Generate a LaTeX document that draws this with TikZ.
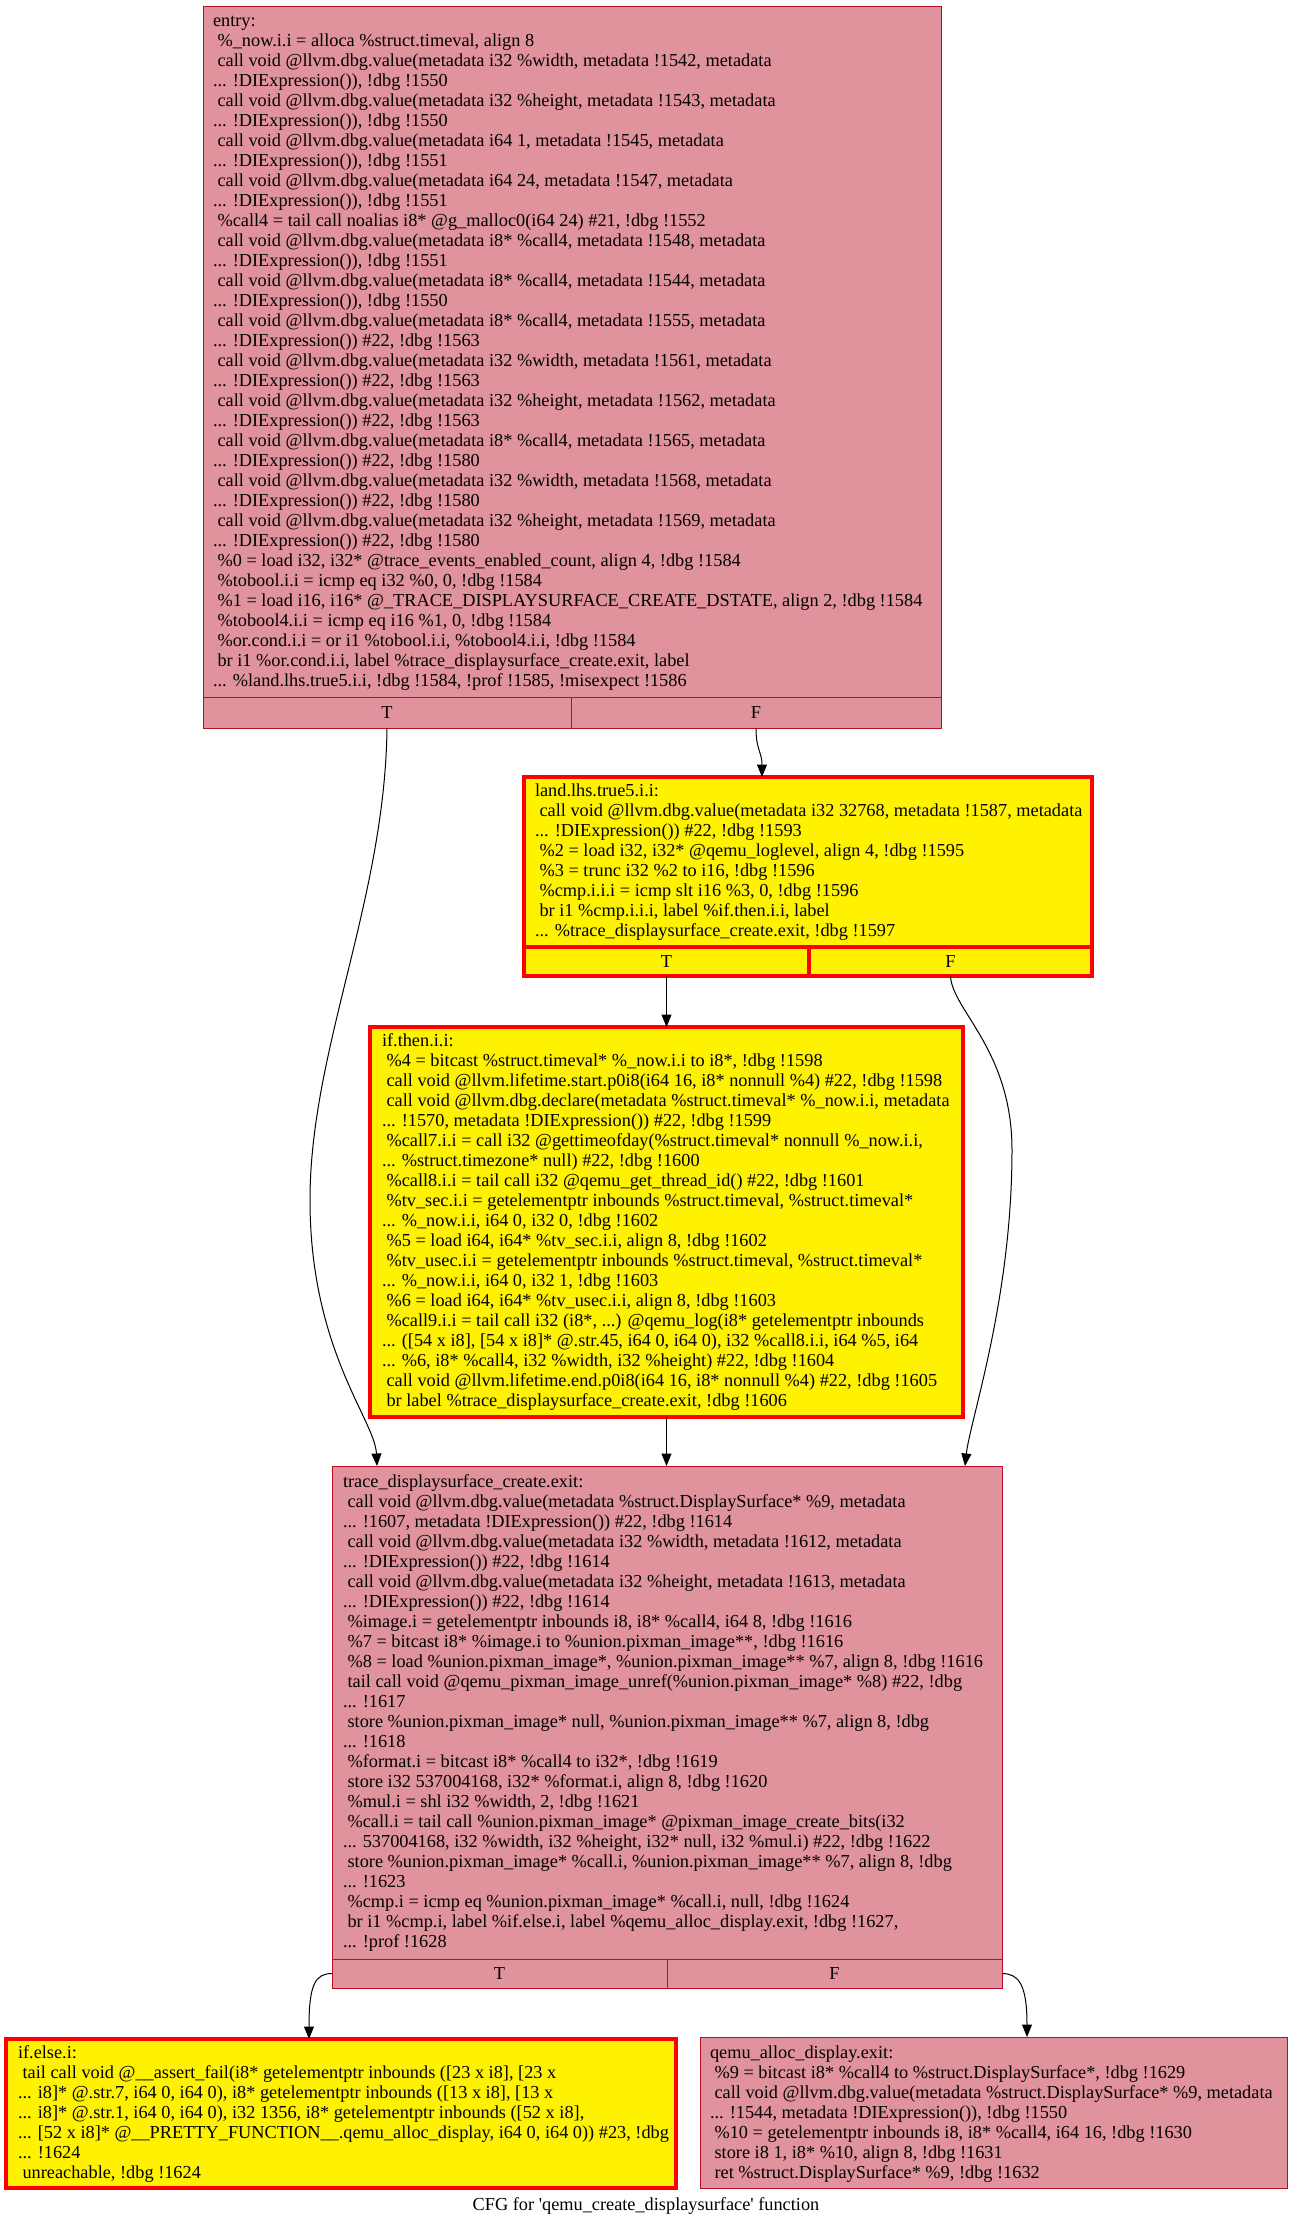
\documentclass[tikz,border=0pt]{standalone}
\usepackage{fontspec}
\setmainfont{Liberation Serif}
\usetikzlibrary{arrows.meta}
\definecolor{pinkfill}{RGB}{224,146,157}
\definecolor{pinkline}{RGB}{183,13,40}
\newcommand\ind{\hspace*{0.25em}}
\newcommand\fl{\rule{0pt}{16pt}}
\begin{document}
\begin{tikzpicture}[x=1pt,y=-1pt,
  pinkbox/.style={rectangle,draw=pinkline,fill=pinkfill,line width=1pt,inner sep=0pt,outer sep=0pt},
  yelbox/.style={rectangle,draw=red,fill=yellow,line width=3.5pt,inner sep=0pt,outer sep=0pt},
  code/.style={anchor=north west,align=left,inner sep=0pt,outer sep=0pt,font=\fontsize{18.3}{20}\selectfont},
  cell/.style={font=\fontsize{18.3}{20}\selectfont},
  edge/.style={-{Triangle[length=12.5pt,width=10pt]},line width=1pt,black}]
\useasboundingbox (0,0) rectangle (1293,2225);
\fill[white] (0,0) rectangle (1293,2225);

% entry
\node[pinkbox,minimum width=738pt,minimum height=691pt] (entry) at (572,351.5) {};
\node[pinkbox,cell,minimum width=368pt,minimum height=31pt] (entryT) at (387,712.5) {T};
\node[pinkbox,cell,minimum width=370pt,minimum height=31pt] (entryF) at (756,712.5) {F};
\node[code] (entrytxt) at (213,10) {\fl entry:\\
\ind\%\_now.i.i = alloca \%struct.timeval, align 8\\
\ind call void @llvm.dbg.value(metadata i32 \%width, metadata !1542, metadata\\
... !DIExpression()), !dbg !1550\\
\ind call void @llvm.dbg.value(metadata i32 \%height, metadata !1543, metadata\\
... !DIExpression()), !dbg !1550\\
\ind call void @llvm.dbg.value(metadata i64 1, metadata !1545, metadata\\
... !DIExpression()), !dbg !1551\\
\ind call void @llvm.dbg.value(metadata i64 24, metadata !1547, metadata\\
... !DIExpression()), !dbg !1551\\
\ind\%call4 = tail call noalias i8* @g\_malloc0(i64 24) \#21, !dbg !1552\\
\ind call void @llvm.dbg.value(metadata i8* \%call4, metadata !1548, metadata\\
... !DIExpression()), !dbg !1551\\
\ind call void @llvm.dbg.value(metadata i8* \%call4, metadata !1544, metadata\\
... !DIExpression()), !dbg !1550\\
\ind call void @llvm.dbg.value(metadata i8* \%call4, metadata !1555, metadata\\
... !DIExpression()) \#22, !dbg !1563\\
\ind call void @llvm.dbg.value(metadata i32 \%width, metadata !1561, metadata\\
... !DIExpression()) \#22, !dbg !1563\\
\ind call void @llvm.dbg.value(metadata i32 \%height, metadata !1562, metadata\\
... !DIExpression()) \#22, !dbg !1563\\
\ind call void @llvm.dbg.value(metadata i8* \%call4, metadata !1565, metadata\\
... !DIExpression()) \#22, !dbg !1580\\
\ind call void @llvm.dbg.value(metadata i32 \%width, metadata !1568, metadata\\
... !DIExpression()) \#22, !dbg !1580\\
\ind call void @llvm.dbg.value(metadata i32 \%height, metadata !1569, metadata\\
... !DIExpression()) \#22, !dbg !1580\\
\ind\%0 = load i32, i32* @trace\_events\_enabled\_count, align 4, !dbg !1584\\
\ind\%tobool.i.i = icmp eq i32 \%0, 0, !dbg !1584\\
\ind\%1 = load i16, i16* @\_TRACE\_DISPLAYSURFACE\_CREATE\_DSTATE, align 2, !dbg !1584\\
\ind\%tobool4.i.i = icmp eq i16 \%1, 0, !dbg !1584\\
\ind\%or.cond.i.i = or i1 \%tobool.i.i, \%tobool4.i.i, !dbg !1584\\
\ind br i1 \%or.cond.i.i, label \%trace\_displaysurface\_create.exit, label\\
... \%land.lhs.true5.i.i, !dbg !1584, !prof !1585, !misexpect !1586};

% land.lhs.true5.i.i
\node[yelbox,minimum width=568pt,minimum height=170pt] (land) at (808,862) {};
\node[yelbox,cell,minimum width=285pt,minimum height=29pt] (landT) at (666.5,961.5) {T};
\node[yelbox,cell,minimum width=283pt,minimum height=29pt] (landF) at (950.5,961.5) {F};
\node[code] (landtxt) at (535,780) {\fl land.lhs.true5.i.i:\\
\ind call void @llvm.dbg.value(metadata i32 32768, metadata !1587, metadata\\
... !DIExpression()) \#22, !dbg !1593\\
\ind\%2 = load i32, i32* @qemu\_loglevel, align 4, !dbg !1595\\
\ind\%3 = trunc i32 \%2 to i16, !dbg !1596\\
\ind\%cmp.i.i.i = icmp slt i16 \%3, 0, !dbg !1596\\
\ind br i1 \%cmp.i.i.i, label \%if.then.i.i, label\\
... \%trace\_displaysurface\_create.exit, !dbg !1597};

% if.then.i.i
\node[yelbox,minimum width=593pt,minimum height=390pt] (ifthen) at (666.5,1222) {};
\node[code] (ifthentxt) at (382,1030) {\fl if.then.i.i:\\
\ind\%4 = bitcast \%struct.timeval* \%\_now.i.i to i8*, !dbg !1598\\
\ind call void @llvm.lifetime.start.p0i8(i64 16, i8* nonnull \%4) \#22, !dbg !1598\\
\ind call void @llvm.dbg.declare(metadata \%struct.timeval* \%\_now.i.i, metadata\\
... !1570, metadata !DIExpression()) \#22, !dbg !1599\\
\ind\%call7.i.i = call i32 @gettimeofday(\%struct.timeval* nonnull \%\_now.i.i,\\
... \%struct.timezone* null) \#22, !dbg !1600\\
\ind\%call8.i.i = tail call i32 @qemu\_get\_thread\_id() \#22, !dbg !1601\\
\ind\%tv\_sec.i.i = getelementptr inbounds \%struct.timeval, \%struct.timeval*\\
... \%\_now.i.i, i64 0, i32 0, !dbg !1602\\
\ind\%5 = load i64, i64* \%tv\_sec.i.i, align 8, !dbg !1602\\
\ind\%tv\_usec.i.i = getelementptr inbounds \%struct.timeval, \%struct.timeval*\\
... \%\_now.i.i, i64 0, i32 1, !dbg !1603\\
\ind\%6 = load i64, i64* \%tv\_usec.i.i, align 8, !dbg !1603\\
\ind\%call9.i.i = tail call i32 (i8*, ...) @qemu\_log(i8* getelementptr inbounds\\
... ([54 x i8], [54 x i8]* @.str.45, i64 0, i64 0), i32 \%call8.i.i, i64 \%5, i64\\
... \%6, i8* \%call4, i32 \%width, i32 \%height) \#22, !dbg !1604\\
\ind call void @llvm.lifetime.end.p0i8(i64 16, i8* nonnull \%4) \#22, !dbg !1605\\
\ind br label \%trace\_displaysurface\_create.exit, !dbg !1606};

% trace_displaysurface_create.exit
\node[pinkbox,minimum width=670pt,minimum height=493pt] (trace) at (667,1712.5) {};
\node[pinkbox,cell,minimum width=335pt,minimum height=29pt] (traceT) at (499.5,1973.5) {T};
\node[pinkbox,cell,minimum width=335pt,minimum height=29pt] (traceF) at (834.5,1973.5) {F};
\node[code] (tracetxt) at (343,1471) {\fl trace\_displaysurface\_create.exit:\\
\ind call void @llvm.dbg.value(metadata \%struct.DisplaySurface* \%9, metadata\\
... !1607, metadata !DIExpression()) \#22, !dbg !1614\\
\ind call void @llvm.dbg.value(metadata i32 \%width, metadata !1612, metadata\\
... !DIExpression()) \#22, !dbg !1614\\
\ind call void @llvm.dbg.value(metadata i32 \%height, metadata !1613, metadata\\
... !DIExpression()) \#22, !dbg !1614\\
\ind\%image.i = getelementptr inbounds i8, i8* \%call4, i64 8, !dbg !1616\\
\ind\%7 = bitcast i8* \%image.i to \%union.pixman\_image**, !dbg !1616\\
\ind\%8 = load \%union.pixman\_image*, \%union.pixman\_image** \%7, align 8, !dbg !1616\\
\ind tail call void @qemu\_pixman\_image\_unref(\%union.pixman\_image* \%8) \#22, !dbg\\
... !1617\\
\ind store \%union.pixman\_image* null, \%union.pixman\_image** \%7, align 8, !dbg\\
... !1618\\
\ind\%format.i = bitcast i8* \%call4 to i32*, !dbg !1619\\
\ind store i32 537004168, i32* \%format.i, align 8, !dbg !1620\\
\ind\%mul.i = shl i32 \%width, 2, !dbg !1621\\
\ind\%call.i = tail call \%union.pixman\_image* @pixman\_image\_create\_bits(i32\\
... 537004168, i32 \%width, i32 \%height, i32* null, i32 \%mul.i) \#22, !dbg !1622\\
\ind store \%union.pixman\_image* \%call.i, \%union.pixman\_image** \%7, align 8, !dbg\\
... !1623\\
\ind\%cmp.i = icmp eq \%union.pixman\_image* \%call.i, null, !dbg !1624\\
\ind br i1 \%cmp.i, label \%if.else.i, label \%qemu\_alloc\_display.exit, !dbg !1627,\\
... !prof !1628};

% if.else.i
\node[yelbox,minimum width=670pt,minimum height=149pt] (ifelse) at (341,2113.5) {};
\node[code] (ifelsetxt) at (18,2042) {\fl if.else.i:\\
\ind tail call void @\_\_assert\_fail(i8* getelementptr inbounds ([23 x i8], [23 x\\
... i8]* @.str.7, i64 0, i64 0), i8* getelementptr inbounds ([13 x i8], [13 x\\
... i8]* @.str.1, i64 0, i64 0), i32 1356, i8* getelementptr inbounds ([52 x i8],\\
... [52 x i8]* @\_\_PRETTY\_FUNCTION\_\_.qemu\_alloc\_display, i64 0, i64 0)) \#23, !dbg\\
... !1624\\
\ind unreachable, !dbg !1624};

% qemu_alloc_display.exit
\node[pinkbox,minimum width=587pt,minimum height=151pt] (qemu) at (993.5,2112.5) {};
\node[code] (qemutxt) at (710,2042) {\fl qemu\_alloc\_display.exit:\\
\ind\%9 = bitcast i8* \%call4 to \%struct.DisplaySurface*, !dbg !1629\\
\ind call void @llvm.dbg.value(metadata \%struct.DisplaySurface* \%9, metadata\\
... !1544, metadata !DIExpression()), !dbg !1550\\
\ind\%10 = getelementptr inbounds i8, i8* \%call4, i64 16, !dbg !1630\\
\ind store i8 1, i8* \%10, align 8, !dbg !1631\\
\ind ret \%struct.DisplaySurface* \%9, !dbg !1632};

% caption
\node[anchor=base,inner sep=0pt,font=\fontsize{18.3}{20}\selectfont] (caption) at (646,2210) {CFG for \textquotesingle qemu\_create\_displaysurface\textquotesingle\ function};

% edges
\draw[edge] (entryT.south) .. controls (385,900) and (310,1050) .. (310,1200)
  .. controls (310,1350) and (375,1420) .. ([xshift=45pt]trace.north west);
\draw[edge] (entryF.south) .. controls (756,750) and (762,752) .. ([xshift=-46pt]land.north);
\draw[edge] (landT.south) -- (landT.south |- ifthen.north);
\draw[edge] (landF.south) .. controls (952,1010) and (1012,1050) .. (1012,1150)
  .. controls (1012,1300) and (970,1420) .. ([xshift=298pt]trace.north);
\draw[edge] (ifthen.south) -- (ifthen.south |- trace.north);
\draw[edge] (traceT.west) .. controls (315,1973.5) and (309,1985) .. ([xshift=-32pt]ifelse.north);
\draw[edge] (traceF.east) .. controls (1019,1973.5) and (1027,1985) .. ([xshift=33.5pt]qemu.north);
\end{tikzpicture}
\end{document}
